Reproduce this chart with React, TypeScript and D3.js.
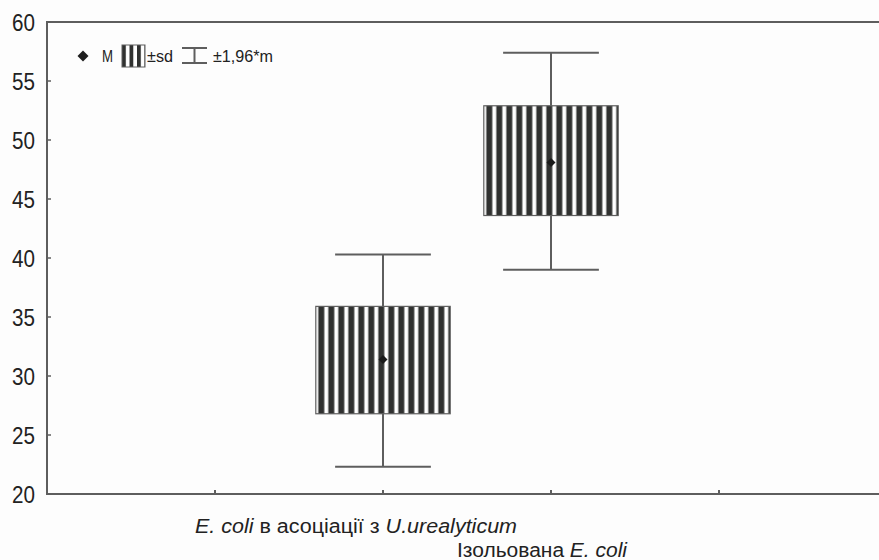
import React from "react";
import * as d3 from "d3";

const categories = ["E. coli в асоціації з U.urealyticum", "Ізольована E. coli"];
const categoryPos = [2, 3];
const means = [31.4, 48.1];
const sdLow = [26.8, 43.6];
const sdHigh = [35.9, 52.9];
const ciLow = [22.3, 39.0];
const ciHigh = [40.3, 57.4];
const yTicks = [20, 25, 30, 35, 40, 45, 50, 55, 60];
const xTicks = [1, 2, 3, 4];

const W = 879;
const H = 560;
const FONT = "'Liberation Sans', Arial, sans-serif";

const diamond = (r: number) => `M0,${-r}L${r},0L0,${r}L${-r},0Z`;

export default function App() {
  const left = 47, top = 22, bottom = 494, right = 887;
  const x = d3.scaleLinear().domain([0, 5]).range([left, right]);
  const y = d3.scaleLinear().domain([20, 60]).range([bottom, top]);
  const step = x(1) - x(0);
  const boxW = step * 0.8;
  const capW = step * 0.57;
  const lineCol = "#5e5e5e";
  const dark = "#303130";
  const txt = "#222";

  return (
    <svg width={W} height={H} style={{ position: "absolute", left: 0, top: 0, background: "#fdfdfd" }}>
      <defs>
        {categoryPos.map((c, i) => (
          <pattern key={i} id={`stripes${i}`} patternUnits="userSpaceOnUse" width={10} height={10}
            x={x(c) - boxW / 2} y={0}>
            <rect x={0} y={0} width={10} height={10} fill="#ffffff" />
            <rect x={2.5} y={0} width={6} height={10} fill={dark} />
          </pattern>
        ))}
        <pattern id="legStripes" patternUnits="userSpaceOnUse" width={7.5} height={10} x={122} y={0}>
          <rect x={0} y={0} width={7.5} height={10} fill="#ffffff" />
          <rect x={0} y={0} width={3.8} height={10} fill={dark} />
        </pattern>
      </defs>

      {/* frame */}
      <line x1={left} x2={W} y1={top} y2={top} stroke={lineCol} strokeWidth={2} />
      <line x1={left} x2={W} y1={bottom} y2={bottom} stroke={lineCol} strokeWidth={2} />
      <line x1={left} x2={left} y1={top - 1} y2={bottom + 1} stroke={lineCol} strokeWidth={2} />

      {/* y ticks */}
      {yTicks.map((t) => (
        <g key={t}>
          <line x1={left} x2={left + 4} y1={y(t)} y2={y(t)} stroke={lineCol} strokeWidth={1.5} />
          <text transform={`translate(35,${y(t)}) scale(0.86,1)`} dy="0.36em" textAnchor="end"
            fontFamily={FONT} fontSize={24} fill={txt}>
            {t}
          </text>
        </g>
      ))}
      {/* x ticks */}
      {xTicks.map((t) => (
        <line key={t} x1={x(t)} x2={x(t)} y1={bottom} y2={bottom - 4} stroke={lineCol} strokeWidth={2} />
      ))}

      {/* boxes */}
      {categoryPos.map((c, i) => {
        const cx = x(c);
        return (
          <g key={i}>
            <line x1={cx} x2={cx} y1={y(ciHigh[i])} y2={y(sdHigh[i])} stroke={lineCol} strokeWidth={2} />
            <line x1={cx} x2={cx} y1={y(sdLow[i])} y2={y(ciLow[i])} stroke={lineCol} strokeWidth={2} />
            <line x1={cx - capW / 2} x2={cx + capW / 2} y1={y(ciHigh[i])} y2={y(ciHigh[i])} stroke={lineCol} strokeWidth={2} />
            <line x1={cx - capW / 2} x2={cx + capW / 2} y1={y(ciLow[i])} y2={y(ciLow[i])} stroke={lineCol} strokeWidth={2} />
            <rect x={cx - boxW / 2} y={y(sdHigh[i])} width={boxW} height={y(sdLow[i]) - y(sdHigh[i])}
              fill={`url(#stripes${i})`} stroke={lineCol} strokeWidth={1.2} />
            <path d={diamond(4.5)} transform={`translate(${cx},${y(means[i])})`} fill="#1a1a1a" />
          </g>
        );
      })}

      {/* legend */}
      <path d={diamond(5.5)} transform="translate(83,56)" fill="#1e1e1e" />
      <text x={102} y={62} fontFamily={FONT} fontSize={16} fill={txt} textLength={11} lengthAdjust="spacingAndGlyphs">M</text>
      <rect x={122} y={45} width={23} height={22} fill="url(#legStripes)" stroke={lineCol} strokeWidth={1} />
      <text x={147} y={62} fontFamily={FONT} fontSize={16} fill={txt} textLength={26} lengthAdjust="spacingAndGlyphs">±sd</text>
      <line x1={182} x2={207} y1={48} y2={48} stroke={lineCol} strokeWidth={2} />
      <line x1={182} x2={207} y1={63} y2={63} stroke={lineCol} strokeWidth={2} />
      <line x1={194.5} x2={194.5} y1={48} y2={63} stroke={lineCol} strokeWidth={2} />
      <text x={213} y={62} fontFamily={FONT} fontSize={16} fill={txt} textLength={60} lengthAdjust="spacingAndGlyphs">±1,96*m</text>

      {/* x category labels */}
      <text x={195} y={533} fontFamily={FONT} fontSize={20} fill={txt} textLength={322} lengthAdjust="spacingAndGlyphs">
        <tspan fontStyle="italic">E. coli</tspan>
        <tspan> в асоціації з </tspan>
        <tspan fontStyle="italic">U.urealyticum</tspan>
      </text>
      <text x={457} y={557} fontFamily={FONT} fontSize={20} fill={txt} textLength={170} lengthAdjust="spacingAndGlyphs">
        <tspan>Ізольована </tspan>
        <tspan fontStyle="italic">E. coli</tspan>
      </text>
    </svg>
  );
}
